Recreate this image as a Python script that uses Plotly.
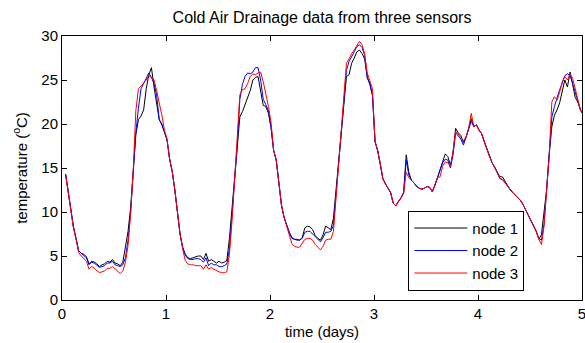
import plotly.graph_objects as go

# sampling grid (days): one reading every 0.025 day starting at 0.035
time_days = [round(0.035 + 0.025 * i, 3) for i in range(200)]

node1 = [
    14.3, 12.2, 10.0, 8.3, 7.0, 5.6, 5.3, 5.2, 4.9, 4.1,
    4.4, 4.3, 4.1, 3.8, 4.0, 4.1, 4.4, 4.3, 4.6, 4.2,
    4.1, 3.9, 4.3, 6.0, 7.8, 10.5, 14.8, 18.8, 20.5, 20.9,
    21.6, 24.0, 25.6, 26.4, 24.2, 22.5, 20.5, 20.0, 19.0, 18.2,
    16.0, 14.6, 12.5, 9.8, 7.5, 6.0, 5.2, 4.8, 4.7, 4.8,
    4.9, 5.0, 5.0, 4.6, 5.3, 4.4, 4.6, 4.4, 4.2, 4.4,
    4.2, 4.3, 4.5, 7.0, 10.5, 13.2, 17.0, 20.8, 21.4, 22.2,
    23.0, 23.8, 25.0, 25.3, 25.4, 23.5, 22.1, 22.0, 21.2, 19.6,
    17.0, 15.9, 13.3, 10.8, 9.4, 8.4, 7.7, 7.1, 6.9, 6.9,
    6.8, 7.1, 8.2, 8.4, 8.3, 8.0, 7.3, 7.0, 6.8, 7.4,
    8.4, 8.2, 8.0, 9.3, 12.5, 15.5, 19.0, 22.5, 25.4, 25.6,
    26.9, 27.5, 28.2, 28.4, 28.0, 27.4, 25.3, 24.5, 23.3, 18.0,
    17.0, 15.5, 13.8, 13.2, 12.7, 12.2, 11.0, 10.7, 11.2, 11.6,
    12.2, 16.5, 14.5, 13.6, 13.3, 12.9, 12.7, 12.6, 12.7, 12.9,
    12.8, 12.3, 13.0, 13.9, 14.7, 15.8, 16.6, 16.3, 15.3, 16.8,
    19.5, 19.0, 18.7, 17.9, 18.5, 19.5, 20.6, 19.7, 19.9, 19.3,
    18.9, 18.0, 17.2, 16.3, 15.6, 15.1, 14.5, 14.0, 14.0, 13.5,
    13.0, 12.5, 12.2, 11.9, 11.6, 11.3, 10.8, 10.2, 9.6, 9.0,
    8.4, 7.8, 6.9, 7.4, 10.0, 12.5, 16.5, 19.7, 21.0, 21.6,
    22.4, 23.8, 25.0, 24.2, 25.9, 24.5, 23.0, 22.5, 21.6, 21.1,
]

node2 = [
    14.3, 12.2, 10.0, 8.3, 7.0, 5.6, 5.3, 5.1, 4.8, 4.0,
    4.3, 4.2, 3.9, 3.7, 3.8, 3.9, 4.2, 4.2, 4.4, 4.0,
    3.9, 3.8, 4.0, 4.8, 6.8, 10.0, 14.5, 19.0, 21.8, 24.0,
    24.6, 25.3, 25.8, 25.3, 24.6, 23.3, 20.5, 19.9, 19.0, 18.2,
    16.0, 14.6, 12.5, 9.8, 7.5, 6.0, 5.1, 4.7, 4.6, 4.6,
    4.7, 4.7, 4.6, 4.3, 4.8, 3.9, 4.2, 4.0, 4.0, 3.8,
    3.8, 3.9, 4.1, 5.8, 9.5, 13.5, 17.5, 22.8, 24.5, 25.4,
    25.8, 25.7, 25.9, 26.4, 26.4, 25.0, 22.8, 22.2, 21.5, 19.6,
    17.0, 15.9, 13.3, 10.8, 9.4, 8.4, 7.7, 7.0, 6.9, 6.8,
    6.8, 7.0, 7.7, 7.8, 7.8, 7.5, 7.1, 6.8, 6.6, 7.1,
    7.7, 7.7, 7.8, 8.5, 12.5, 15.5, 19.0, 23.0, 26.1, 27.1,
    27.6, 28.2, 28.8, 29.0, 28.7, 27.8, 25.3, 24.6, 23.3, 18.0,
    17.0, 15.5, 13.8, 13.2, 12.7, 12.2, 11.0, 10.7, 11.2, 11.6,
    12.2, 15.9, 14.2, 13.6, 13.3, 12.9, 12.7, 12.6, 12.7, 12.9,
    12.8, 12.3, 13.0, 13.9, 14.6, 15.6, 16.0, 15.9, 15.0, 16.5,
    19.0, 18.6, 18.3, 17.6, 18.5, 19.5, 20.3, 19.7, 19.9, 19.3,
    18.9, 18.0, 17.2, 16.3, 15.6, 15.1, 14.5, 13.8, 13.7, 13.3,
    12.9, 12.5, 12.2, 11.9, 11.6, 11.3, 10.8, 10.2, 9.6, 9.0,
    8.4, 7.8, 7.0, 6.8, 8.6, 12.5, 16.5, 20.8, 22.0, 23.1,
    23.9, 24.6, 25.5, 25.7, 25.5, 24.6, 23.5, 22.5, 21.6, 21.1,
]

node3 = [
    14.2, 12.1, 9.9, 8.2, 6.9, 5.4, 5.0, 4.7, 4.4, 3.5,
    3.8, 3.6, 3.3, 3.1, 3.2, 3.3, 3.6, 3.6, 3.8, 3.5,
    3.3, 3.0, 3.3, 4.3, 6.2, 9.8, 14.8, 21.5, 24.0, 24.3,
    24.6, 25.0, 25.5, 25.2, 25.0, 23.8, 22.5, 21.0, 19.3, 18.3,
    16.0, 14.6, 12.5, 9.8, 7.5, 5.8, 4.5, 4.1, 4.0, 4.0,
    3.9, 3.9, 3.9, 3.5, 4.0, 3.5, 3.7, 3.5, 3.3, 3.2,
    3.1, 3.1, 3.2, 5.2, 9.0, 13.5, 17.5, 23.3, 23.9, 24.0,
    24.6, 25.4, 25.7, 25.6, 25.8, 25.9, 24.8, 23.5, 22.0, 20.2,
    17.0, 15.9, 13.3, 10.8, 9.4, 8.4, 7.1, 6.4, 6.1, 6.0,
    6.0, 6.5, 6.9, 7.0, 7.0, 6.8, 6.3, 6.0, 5.7, 6.1,
    6.8, 6.9, 6.9, 7.8, 11.8, 15.5, 19.0, 23.8, 26.9, 27.4,
    28.0, 28.4, 28.9, 29.4, 29.0, 28.0, 25.8, 24.9, 24.0, 18.0,
    17.0, 15.5, 13.8, 13.2, 12.7, 12.2, 11.0, 10.7, 11.2, 11.6,
    12.2, 14.5, 13.9, 13.6, 13.3, 12.9, 12.7, 12.6, 12.7, 12.9,
    12.8, 12.3, 13.0, 13.9, 14.0, 15.2, 15.7, 15.6, 15.2, 16.8,
    19.2, 18.8, 18.5, 18.1, 18.5, 19.5, 21.2, 19.7, 19.9, 19.3,
    18.9, 18.0, 17.2, 16.3, 15.6, 15.1, 14.5, 13.8, 13.7, 13.3,
    12.9, 12.5, 12.2, 11.9, 11.6, 11.3, 10.8, 10.2, 9.6, 9.0,
    8.4, 7.8, 6.9, 6.3, 8.4, 12.5, 16.5, 22.5, 23.1, 22.7,
    23.6, 24.8, 25.4, 25.0, 25.7, 25.2, 24.0, 22.5, 21.6, 21.1,
]

series_names = ["node 1", "node 2", "node 3"]
series_colors = ["#000000", "#0000ff", "#ff0000"]
x_ticks = [0, 1, 2, 3, 4, 5]
y_ticks = [0, 5, 10, 15, 20, 25, 30]

FONT = "Liberation Sans, Arial, Helvetica, sans-serif"

fig = go.Figure()
for name, vals, col in zip(series_names, [node1, node2, node3], series_colors):
    fig.add_trace(go.Scatter(x=time_days, y=vals, mode="lines", name=name,
                             line=dict(color=col, width=1)))

axis_common = dict(showline=True, linecolor="black", linewidth=1, mirror="ticks",
                   ticks="inside", ticklen=5, tickcolor="black", showgrid=False,
                   zeroline=False, automargin=False, ticklabeloverflow="allow",
                   tickfont=dict(size=15, color="black", family=FONT))

fig.update_layout(
    width=585, height=343,
    margin=dict(l=62, r=3, t=36, b=43),
    paper_bgcolor="white", plot_bgcolor="white",
    font=dict(family=FONT, size=15, color="black"),
    title=dict(text="Cold Air Drainage data from three sensors", x=0.5, xref="paper",
               xanchor="center", y=1 - 17 / 343, yref="container", yanchor="middle",
               automargin=False,
               font=dict(size=16, family=FONT, color="black")),
    xaxis=dict(range=[0, 5], tickvals=x_ticks,
               title=dict(text="time (days)", standoff=5, font=dict(size=15)), **axis_common),
    yaxis=dict(range=[0, 30], tickvals=y_ticks,
               title=dict(text="temperature (<sup>o</sup>C)", standoff=10, font=dict(size=15)),
               **axis_common),
    legend=dict(x=0.666, y=0.338, xanchor="left", yanchor="top", bgcolor="white",
                bordercolor="black", borderwidth=1, itemwidth=53,
                font=dict(size=15, family=FONT)),
)

fig.write_html(
    "out.html",
    config={"displayModeBar": False},
    post_script="document.body.style.margin='0px';document.body.style.padding='0px';"
                "document.documentElement.style.overflow='hidden';",
)
